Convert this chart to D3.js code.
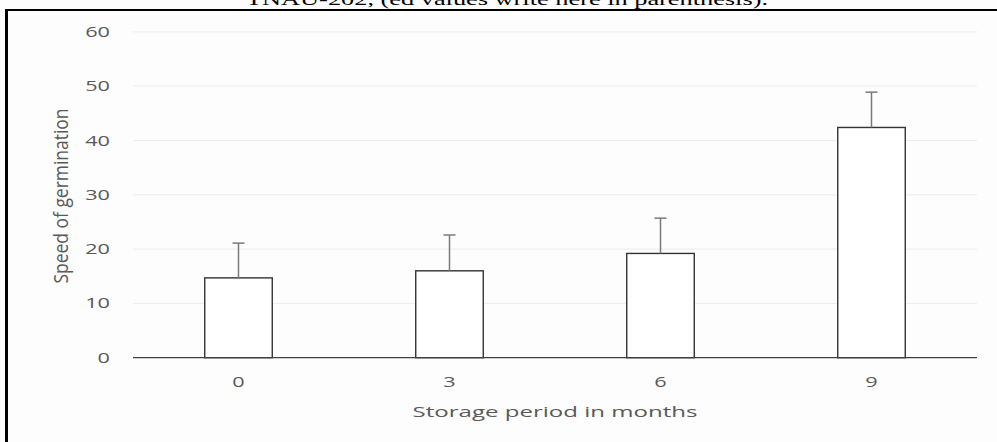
<!DOCTYPE html>
<html>
<head>
<meta charset="utf-8">
<script src="https://cdn.jsdelivr.net/npm/d3@7"></script>
<style>
  html, body { margin: 0; padding: 0; background: #fdfdfd; }
  svg { display: block; }
</style>
</head>
<body>
<script>
// ---- data ----
const categories = ["0", "3", "6", "9"];
const means = [14.7, 16.0, 19.2, 42.4];
const errors = [6.4, 6.6, 6.5, 6.5];
const yTicks = [0, 10, 20, 30, 40, 50, 60];
const xTitle = "Storage period in months";
const yTitle = "Speed of germination";
const topCaption = "TNAU-202, (ed values write here in parenthesis).";

const W = 997, H = 442;
const SX = 1.55; // horizontal stretch of the text in the picture

const svg = d3.select("body").append("svg").attr("width", W).attr("height", H);
svg.append("rect").attr("width", W).attr("height", H).attr("fill", "#fdfdfd");

const x = d3.scaleBand().domain(categories).range([133, 977])
  .paddingInner(0.68).paddingOuter(0.34);
const y = d3.scaleLinear().domain([0, 60]).range([357.7, 31.9]);

// caption (clipped at top)
svg.append("text")
  .attr("transform", `translate(507,5) scale(${SX},1)`)
  .attr("text-anchor", "middle")
  .attr("font-family", "Liberation Serif, Times New Roman, serif")
  .attr("font-size", 17)
  .attr("fill", "#000")
  .text(topCaption);

// frame lines
svg.append("rect").attr("x", 5).attr("y", 9).attr("width", W - 5).attr("height", 2).attr("fill", "#000");
svg.append("rect").attr("x", 5).attr("y", 9).attr("width", 3).attr("height", H - 9).attr("fill", "#000");

// gridlines
svg.append("g").selectAll("line").data(yTicks.filter(d => d > 0)).join("line")
  .attr("x1", 133).attr("x2", 977)
  .attr("y1", d => y(d)).attr("y2", d => y(d))
  .attr("stroke", "#ececec").attr("stroke-width", 1);

// y tick labels
svg.append("g").selectAll("text").data(yTicks).join("text")
  .attr("transform", d => `translate(110,${y(d)}) scale(${SX},1)`)
  .attr("text-anchor", "end")
  .attr("dy", "0.36em")
  .attr("font-family", "Open Sans, sans-serif")
  .attr("font-size", 14)
  .attr("fill", "#595959")
  .text(d => d);

// bars
svg.append("g").selectAll("rect").data(categories).join("rect")
  .attr("x", d => x(d))
  .attr("y", (d, i) => y(means[i]))
  .attr("width", x.bandwidth())
  .attr("height", (d, i) => y(0) - y(means[i]))
  .attr("fill", "#fff")
  .attr("stroke", "#333")
  .attr("stroke-width", 1.4);

// error bars
const eb = svg.append("g").attr("stroke", "#7a7a7a").attr("stroke-width", 1.5);
categories.forEach((c, i) => {
  const cx = x(c) + x.bandwidth() / 2;
  eb.append("line").attr("x1", cx).attr("x2", cx)
    .attr("y1", y(means[i])).attr("y2", y(means[i] + errors[i]));
  eb.append("line").attr("x1", cx - 6).attr("x2", cx + 6)
    .attr("y1", y(means[i] + errors[i])).attr("y2", y(means[i] + errors[i]));
});

// x axis line
svg.append("line").attr("x1", 133).attr("x2", 977)
  .attr("y1", y(0)).attr("y2", y(0))
  .attr("stroke", "#404040").attr("stroke-width", 1.3);

// x tick labels
svg.append("g").selectAll("text").data(categories).join("text")
  .attr("transform", d => `translate(${x(d) + x.bandwidth() / 2},382) scale(${SX},1)`)
  .attr("text-anchor", "middle")
  .attr("dy", "0.36em")
  .attr("font-family", "Open Sans, sans-serif")
  .attr("font-size", 14)
  .attr("fill", "#595959")
  .text(d => d);

// x title
svg.append("text")
  .attr("transform", `translate(555,417) scale(${SX},1)`)
  .attr("text-anchor", "middle")
  .attr("font-family", "Open Sans, sans-serif")
  .attr("font-size", 15)
  .attr("fill", "#595959")
  .attr("textLength", 285 / SX)
  .attr("lengthAdjust", "spacingAndGlyphs")
  .text(xTitle);

// y title
svg.append("text")
  .attr("transform", `translate(68,196) rotate(-90) scale(1,${1.35})`)
  .attr("text-anchor", "middle")
  .attr("font-family", "Open Sans, sans-serif")
  .attr("font-size", 15)
  .attr("fill", "#595959")
  .attr("textLength", 175)
  .attr("lengthAdjust", "spacingAndGlyphs")
  .text(yTitle);
</script>
</body>
</html>
